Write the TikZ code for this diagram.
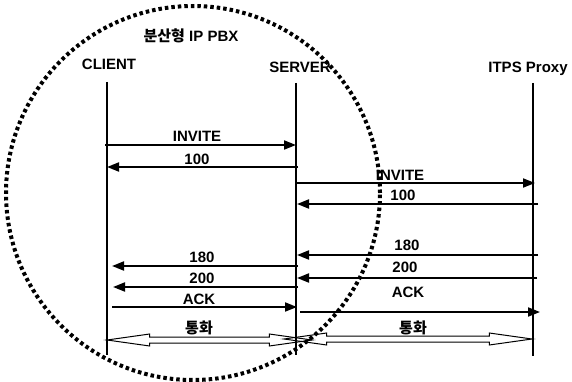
\documentclass[tikz,border=0pt]{standalone}
\usepackage{fontspec}
\setmainfont{Liberation Sans}
\newfontfamily\kfont{Noto Sans CJK KR}
\usetikzlibrary{arrows.meta, shapes.arrows}

\tikzset{
  lbl/.style={font=\bfseries\fontsize{15}{17}\selectfont, inner sep=0pt},
  life/.style={line width=1.5pt},
  msg/.style={line width=1.8pt, -{Triangle[length=12pt, width=9pt]}},
  talk/.style={double arrow, draw, line width=1pt, inner xsep=0pt, inner ysep=2.5pt,
    double arrow head extend=3pt, double arrow tip angle=16},
  zone/.style={line width=4pt, dash pattern=on 3.5pt off 3pt}
}

\begin{document}
\begin{tikzpicture}[x=1pt, y=-1pt]
\useasboundingbox (0,0) rectangle (572,382);

% Distributed PBX boundary
\draw[zone] (193,193) circle[radius=187pt];

% Entities
\node[lbl] (title) at (191,36) {{\kfont 분산형} IP PBX};
\node[lbl] (client) at (109,64) {CLIENT};
\node[lbl] (server) at (300,67) {SERVER};
\node[lbl] (proxy) at (528,69) {ITPS Proxy};

\foreach \n/\x/\ya/\yb in {client/107/82/355, server/296/83/355, proxy/533/83/356} {
   \coordinate (\n top) at (\x,\ya);
   \coordinate (\n bot) at (\x,\yb);
   \draw[life] (\n top) -- (\n bot);
}

% Signalling
\foreach \i/\xa/\xb/\y/\lx/\ly/\txt in {
   1/105/296/145/197/136/INVITE,
   2/298/107/167/197/159/100,
   3/296/535/183/400/175/INVITE,
   4/538/297/204/403/195/100,
   5/538/297/255/407/245/180,
   6/298/112/266/202/257/180,
   7/537/297/278/405/267/200,
   8/298/113/287/202/278/200,
   9/112/297/307/199/299/ACK,
   10/300/540/312/408/292/ACK} {
   \coordinate (m\i a) at (\xa,\y);
   \coordinate (m\i b) at (\xb,\y);
   \draw[msg] (m\i a) -- (m\i b);
   \node[lbl] (t\i) at (\lx,\ly) {\txt};
}

% Call
\node[talk, minimum height=205pt] (talkL) at (209.5,340) {};
\node[talk, minimum height=248pt] (talkR) at (408,339) {};
\node[lbl] (callL) at (199,328) {\kfont 통화};
\node[lbl] (callR) at (413,328) {\kfont 통화};
\end{tikzpicture}
\end{document}
